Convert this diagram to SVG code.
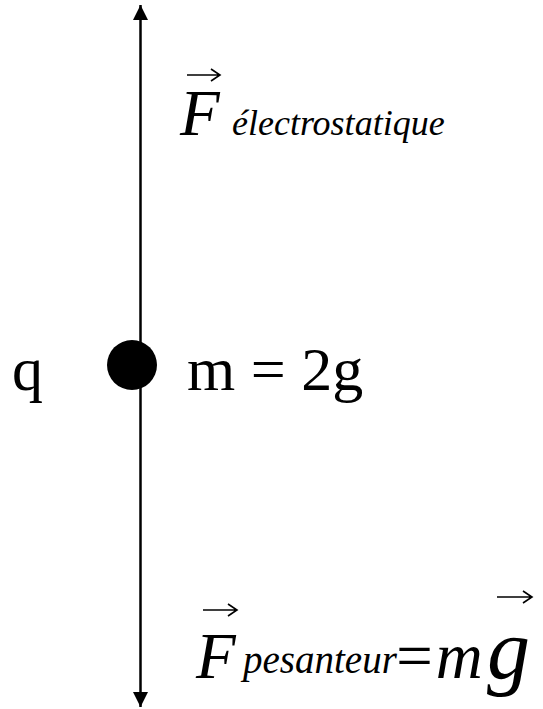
<svg xmlns="http://www.w3.org/2000/svg" width="543" height="709" viewBox="0 0 543 709">
<defs>
<marker id="ah" viewBox="0 0 10 10" refX="10" refY="5" markerWidth="6" markerHeight="7" markerUnits="strokeWidth" orient="auto">
<path d="M0,0 L10,5 L0,10 z" fill="#000"/>
</marker>
</defs>
<rect width="543" height="709" fill="#fff"/>
<g id="connectors">
<line x1="140.5" y1="365" x2="140.5" y2="5" stroke="#000" stroke-width="2.5" marker-end="url(#ah)"/>
<line x1="140.5" y1="365" x2="140.5" y2="707" stroke="#000" stroke-width="2.5" marker-end="url(#ah)"/>
</g>
<g id="particle">
<circle cx="132" cy="365" r="25" fill="#000"/>
</g>
<g id="label-q">
<text x="12" y="390" font-size="62" font-family="Times New Roman, Liberation Serif, serif">q</text>
</g>
<g id="label-m">
<text x="187" y="390" font-size="62" font-family="Times New Roman, Liberation Serif, serif">m = 2g</text>
</g>
<g id="label-Fe">
<path d="M187,75 H219 M211,69 L220,75 L211,81" stroke="#000" stroke-width="1.6" fill="none"/>
<text x="180" y="135" font-family="Times New Roman, Liberation Serif, serif" font-style="italic"><tspan font-size="65">F</tspan><tspan x="232" font-size="36">électrostatique</tspan></text>
</g>
<g id="label-Fp">
<path d="M203,610 H236 M228,604 L237,610 L228,616" stroke="#000" stroke-width="1.6" fill="none"/>
<path d="M497,597 H531 M523,591 L532,597 L523,603" stroke="#000" stroke-width="1.6" fill="none"/>
<text x="196" y="678" font-family="Times New Roman, Liberation Serif, serif" font-style="italic"><tspan font-size="65">F</tspan><tspan x="243" y="673" font-size="39">pesanteur</tspan><tspan x="392" y="678" font-size="65">=m</tspan><tspan x="487" font-size="86">g</tspan></text>
</g>
</svg>
